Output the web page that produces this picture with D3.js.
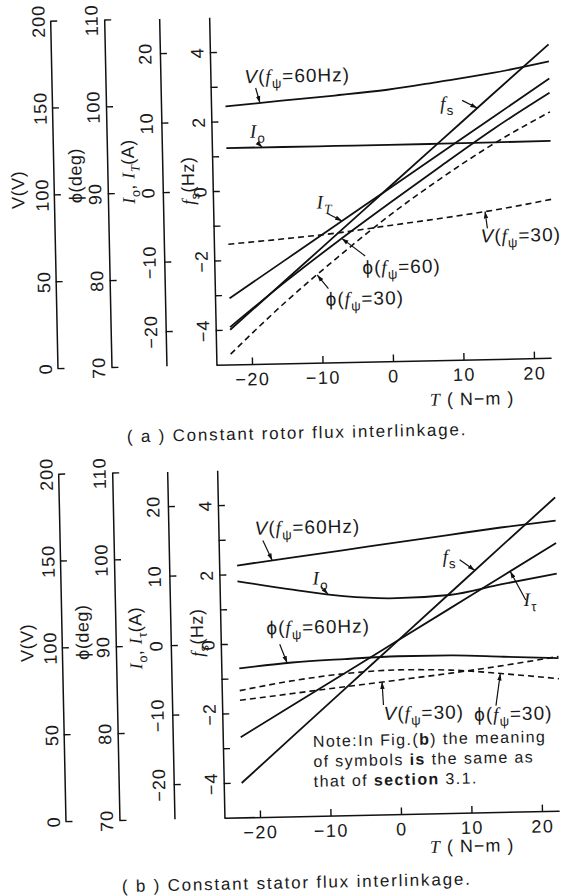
<!DOCTYPE html>
<html>
<head>
<meta charset="utf-8">
<script src="https://cdn.jsdelivr.net/npm/d3@7/dist/d3.min.js"></script>
<style>
  body { margin: 0; background: #fff; }
  text { font-family: "Liberation Sans", Arial, sans-serif; fill: #1a1a1a; }
</style>
</head>
<body>
<div id="chart"></div>
<script>
const torqueA = [-23, -15, -7.5, 0, 7.5, 15, 23];
const torqueB = [-22.5, -15, -7.5, 0, 7.5, 15, 22.8];

// (a) constant rotor flux interlinkage
const aVolt60 = [148.5, 151.2, 153.5, 156.2, 160.3, 164.6, 170.6];   // V
const aVolt30 = [69.2, 71.7, 74.4, 78.1, 81.7, 85.8, 91.2];          // V
const aPhi60 = [74.3, 79.4, 83.9, 88.2, 92.4, 96.5, 100.5];          // deg
const aPhi30 = [71.2, 77.1, 82.1, 86.8, 91.0, 94.8, 98.3];           // deg
const aIo = [6.15, 6.13, 6.12, 6.11, 6.13, 6.16, 6.19];              // A
const aIt = [-15.48, -10.15, -5.15, -0.15, 4.85, 9.85, 15.18];       // A
const aFs = [-4.0, -2.61, -1.30, 0.01, 1.32, 2.63, 4.02];            // Hz

// (b) constant stator flux interlinkage
const bVolt60 = [145.0, 148.8, 152.5, 156.3, 160.0, 163.7, 167.0];
const bVolt30 = [67.4, 70.7, 74.0, 77.2, 80.5, 84.3, 88.8];
const bPhi60 = [87.15, 87.71, 87.98, 88.17, 88.14, 87.86, 87.57];
const bPhi30 = [84.6, 85.6, 86.3, 86.6, 86.45, 85.9, 85.2];
const bIo = [8.98, 7.67, 6.52, 6.07, 6.37, 7.77, 9.11];
const bIt = [-13.46, -8.99, -4.53, -0.06, 4.41, 8.88, 13.52];
const bFs = [-4.01, -2.68, -1.35, -0.02, 1.31, 2.64, 4.02];

// axis ticks
const vTicks = [0, 50, 100, 150, 200];
const phiTicks = [70, 80, 90, 100, 110];
const iTicks = [-20, -10, 0, 10, 20];
const fsTicks = [-4, -3, -2, -1, 0, 1, 2, 3, 4];
const tTicks = [-20, -10, 0, 10, 20];

const W = 579, H = 896;
const TILT = -1.2; // the printed page sits slightly rotated
const svg = d3.select('#chart').append('svg').attr('width', W).attr('height', H);

svg.append('defs').append('marker')
  .attr('id', 'arr').attr('viewBox', '0 0 10 10')
  .attr('refX', 10).attr('refY', 5)
  .attr('markerWidth', 7).attr('markerHeight', 7)
  .attr('markerUnits', 'userSpaceOnUse').attr('orient', 'auto')
  .append('path').attr('d', 'M0,1.8L10,5L0,8.2Z').attr('fill', '#111');

// shared panel geometry (panel b is the same frame shifted)
const x = d3.scaleLinear().domain([-20, 20]).range([248.6, 530.6]);
const yV = d3.scaleLinear().domain([0, 200]).range([363, 15.5]);
const yPhi = d3.scaleLinear().domain([70, 110]).range([363, 15.5]);
const yI = d3.scaleLinear().domain([-25, 25]).range([363, 15.5]);
const yFs = d3.scaleLinear().domain([-5, 5]).range([363, 15.5]);
const scales = { V: yV, phi: yPhi, I: yI, fs: yFs };
const baseY = 363.5;

const SERIF = '"Liberation Serif", "DejaVu Serif", serif';

// text with italic / subscript runs
function rich(text, parts, size) {
  let shifted = false;
  parts.forEach(([s, st = '']) => {
    const ts = text.append('tspan').text(s);
    const sub = st.includes('s');
    if (st.includes('f')) ts.style('font-family', SERIF).attr('font-style', 'italic');
    else if (st.includes('i')) ts.attr('font-style', 'italic');
    if (sub && !shifted) { ts.attr('dy', size * 0.28); shifted = true; }
    if (!sub && shifted) { ts.attr('dy', -size * 0.28); shifted = false; }
    if (sub) ts.attr('font-size', size * 0.7);
    if (st.includes('b')) ts.attr('font-weight', 'bold');
  });
  return text;
}

const psi = (v) => [['V', 'i'], ['('], ['f', 'f'], ['ψ', 's'], [v]];
const phiLab = (v) => [['ϕ'], ['('], ['f', 'f'], ['ψ', 's'], [v]];

const panels = [
  {
    dx: 0, dy: 0,
    torque: torqueA,
    series: [
      { vals: aVolt60, sc: 'V' }, { vals: aVolt30, sc: 'V', dash: true },
      { vals: aPhi60, sc: 'phi' }, { vals: aPhi30, sc: 'phi', dash: true },
      { vals: aIo, sc: 'I' }, { vals: aIt, sc: 'I' }, { vals: aFs, sc: 'fs' },
    ],
    notes: [
      { s: 0, t: -18.1, parts: psi('=60Hz)'), lx: -15, ly: -20, ax: -4, ay: -15 },
      { s: 4, t: -17.9, parts: [['I', 'f'], ['o', 's']], lx: -12, ly: -10, ax: -5, ay: -5 },
      { s: 6, t: 12.7, parts: [['f', 'f'], ['s', 's']], lx: -37, ly: 1, ax: -15, ay: -8 },
      { s: 5, t: -6.8, parts: [['I', 'f'], ['T', 'sf']], lx: -25, ly: -13, ax: -15, ay: -8 },
      { s: 1, t: 13.5, parts: psi('=30)'), lx: -5, ly: 31, ax: 2, ay: 17 },
      { s: 2, t: -6.9, parts: phiLab('=60)'), lx: 20, ly: 36, ax: 23, ay: 18 },
      { s: 3, t: -10.5, parts: phiLab('=30)'), lx: 8, ly: 31, ax: 11, ay: 14 },
    ],
    titles: [
      { parts: [['V(V)']], x: 18, y: 184 },
      { parts: [['ϕ(deg)']], x: 75.5, y: 171 },
      { parts: [['I', 'f'], ['o', 's'], [', '], ['I', 'f'], ['T', 'sf'], ['(A)']], x: 128.5, y: 168 },
      { parts: [['f', 'f'], ['s', 's'], ['(Hz)']], x: 188, y: 178.5 },
    ],
    tTitle: { x: 468, y: 408.5 },
    caption: { text: '( a ) Constant rotor flux interlinkage.', x: 122, y: 438.5 },
  },
  {
    dx: 8, dy: 453,
    torque: torqueB,
    series: [
      { vals: bVolt60, sc: 'V' }, { vals: bVolt30, sc: 'V', dash: true },
      { vals: bPhi60, sc: 'phi' }, { vals: bPhi30, sc: 'phi', dash: true },
      { vals: bIo, sc: 'I' }, { vals: bIt, sc: 'I' }, { vals: bFs, sc: 'fs' },
    ],
    notes: [
      { s: 0, t: -17.5, parts: psi('=60Hz)'), lx: -17, ly: -26, ax: -9, ay: -20 },
      { s: 4, t: -9.7, parts: [['I', 'f'], ['o', 's']], lx: -15, ly: -10, ax: -7, ay: -8 },
      { s: 2, t: -15.7, parts: phiLab('=60Hz)'), lx: -20, ly: -29, ax: -7, ay: -19 },
      { s: 6, t: 11.2, parts: [['f', 'f'], ['s', 's']], lx: -32, ly: -8, ax: -15, ay: -11 },
      { s: 5, t: 16.2, parts: [['I', 'f'], ['τ', 's']], lx: 13, ly: 35, ax: 15, ay: 29 },
      { s: 1, t: -2.3, parts: psi('=30)'), lx: 1, ly: 38, ax: 1, ay: 23 },
      { s: 3, t: 14.5, parts: phiLab('=30)'), lx: -27, ly: 47, ax: -5, ay: 32 },
    ],
    titles: [
      { parts: [['V(V)']], x: 19, y: 184 },
      { parts: [['ϕ(deg)']], x: 74.5, y: 174.5 },
      { parts: [['I', 'f'], ['o', 's'], [', '], ['I', 'f'], ['τ', 's'], ['(A)']], x: 127.5, y: 181.5 },
      { parts: [['f', 'f'], ['s', 's'], ['(Hz)']], x: 189, y: 177.5 },
    ],
    tTitle: { x: 460, y: 402.5 },
    caption: { text: '( b ) Constant stator flux interlinkage.', x: 109, y: 435 },
    note: { x: 303, y: 294, lines: [
      [['Note:In Fig.('], ['b', 'b'], [') the meaning']],
      [['of symbols '], ['is', 'b'], [' the same as']],
      [['that of '], ['section', 'b'], [' 3.1.']],
    ] },
  },
];

const fmt = d3.format('d');

function drawPanel(p) {
  const g = svg.append('g')
    .attr('transform', `translate(${p.dx},${p.dy}) rotate(${TILT},300,200)`);

  // four stacked y axes, ticks pointing right, rotated labels on the left
  const axes = [
    { sc: yV, ticks: vTicks, at: 54, lab: 12 },
    { sc: yPhi, ticks: phiTicks, at: 108, lab: 13 },
    { sc: yI, ticks: iTicks, at: 163, lab: 15 },
    { sc: yFs, ticks: fsTicks, at: 213, lab: 13, even: true },
  ];
  axes.forEach((a) => {
    const ax = g.append('g').attr('transform', `translate(${a.at},0)`)
      .call(d3.axisLeft(a.sc).tickValues(a.ticks).tickSizeInner(-7).tickSizeOuter(0)
        .tickFormat((d) => (a.even && d % 2 !== 0 ? '' : fmt(d))));
    ax.select('.domain').attr('stroke', '#111').attr('stroke-width', 1.5);
    ax.selectAll('.tick line').attr('stroke', '#111').attr('stroke-width', 1.4);
    ax.selectAll('.tick text')
      .attr('x', null)
      .attr('transform', `translate(${-a.lab},0) rotate(-90)`)
      .attr('text-anchor', 'middle').attr('dy', '0.36em')
      .attr('font-size', 18).attr('letter-spacing', 1)
      .style('font-family', '"Liberation Sans", Arial, sans-serif').attr('fill', '#1a1a1a');
  });

  // torque axis
  const tx = g.append('g').attr('transform', `translate(0,${baseY})`)
    .call(d3.axisBottom(x).tickValues(tTicks).tickSizeInner(-7).tickSizeOuter(0).tickPadding(8));
  tx.select('.domain').remove();
  tx.selectAll('.tick line').attr('stroke', '#111').attr('stroke-width', 1.4);
  tx.selectAll('.tick text').attr('font-size', 18).attr('letter-spacing', 1.5)
    .style('font-family', '"Liberation Sans", Arial, sans-serif').attr('fill', '#1a1a1a');
  g.append('line').attr('x1', 213).attr('x2', x(22.5)).attr('y1', baseY).attr('y2', baseY)
    .attr('stroke', '#111').attr('stroke-width', 1.5);

  const tt = g.append('text').attr('x', p.tTitle.x).attr('y', p.tTitle.y)
    .attr('text-anchor', 'middle').attr('font-size', 18).attr('letter-spacing', 1);
  rich(tt, [['T', 'f'], [' ( N−m )']], 18);

  // axis titles
  p.titles.forEach((t) => {
    const el = g.append('text')
      .attr('transform', `translate(${t.x},${t.y}) rotate(-90)`)
      .attr('text-anchor', 'middle').attr('dy', '0.36em')
      .attr('font-size', 18).attr('letter-spacing', 0.5);
    rich(el, t.parts, 18);
  });

  // curves
  p.series.forEach((s) => {
    const sc = scales[s.sc];
    const line = d3.line()
      .x((d, i) => x(p.torque[i]))
      .y((d) => sc(d))
      .curve(d3.curveMonotoneX);
    g.append('path').datum(s.vals).attr('d', line)
      .attr('fill', 'none').attr('stroke', '#111')
      .attr('stroke-width', s.dash ? 1.6 : 1.8)
      .attr('stroke-dasharray', s.dash ? '6,4' : null);
  });

  // curve labels with leader arrows
  p.notes.forEach((n) => {
    const s = p.series[n.s];
    const interp = d3.scaleLinear().domain(p.torque).range(s.vals);
    const px = x(n.t);
    const py = scales[s.sc](interp(n.t));
    g.append('line')
      .attr('x1', px + n.ax).attr('y1', py + n.ay).attr('x2', px).attr('y2', py)
      .attr('stroke', '#111').attr('stroke-width', 1.2).attr('marker-end', 'url(#arr)');
    const el = g.append('text').attr('x', px + n.lx).attr('y', py + n.ly)
      .attr('font-size', 19).attr('letter-spacing', 1);
    rich(el, n.parts, 19);
  });

  if (p.note) {
    p.note.lines.forEach((ln, i) => {
      const el = g.append('text').attr('x', p.note.x).attr('y', p.note.y + i * 20)
        .attr('font-size', 16).attr('letter-spacing', 1.4);
      rich(el, ln, 16);
    });
  }

  g.append('text').attr('x', p.caption.x).attr('y', p.caption.y)
    .attr('font-size', 17).attr('letter-spacing', 1.8).text(p.caption.text);
}

panels.forEach(drawPanel);
</script>
</body>
</html>
